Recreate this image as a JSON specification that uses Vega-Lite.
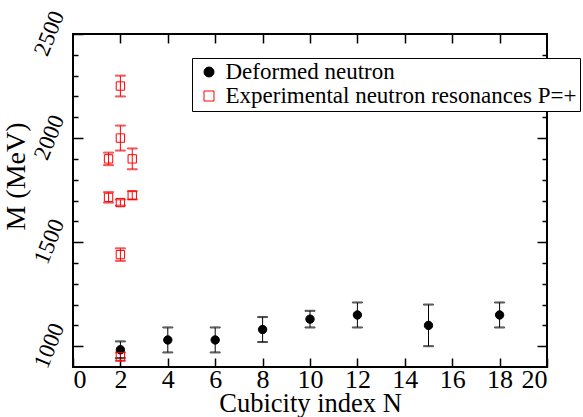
{
  "$schema": "https://vega.github.io/schema/vega-lite/v6.json",
  "width": 474,
  "height": 333,
  "autosize": {"type": "none"},
  "padding": {"left": 73, "top": 34, "right": 36, "bottom": 50},
  "background": "white",
  "config": {
    "font": "Liberation Serif",
    "view": {"stroke": "black", "strokeWidth": 2},
    "axis": {"grid": false, "domain": false, "tickColor": "black", "labelColor": "black", "titleColor": "black", "titleFontWeight": "normal", "labelFont": "Liberation Serif", "titleFont": "Liberation Serif", "labelOverlap": false},
    "legend": {"orient": "none", "legendX": 119, "legendY": 24, "title": null, "padding": 2.5, "strokeColor": "black", "fillColor": "white", "labelFontSize": 23, "labelFont": "Liberation Serif", "labelColor": "black", "labelLimit": 500, "symbolOffset": 3, "labelOffset": 5, "rowPadding": 0, "symbolStrokeWidth": 1, "symbolOpacity": 1}
  },
  "data": {
    "values": [
      {"s": "Deformed neutron", "N": 2, "M": 983, "lo": 943, "hi": 1023},
      {"s": "Deformed neutron", "N": 4, "M": 1030, "lo": 970, "hi": 1090},
      {"s": "Deformed neutron", "N": 6, "M": 1030, "lo": 970, "hi": 1090},
      {"s": "Deformed neutron", "N": 8, "M": 1080, "lo": 1020, "hi": 1140},
      {"s": "Deformed neutron", "N": 10, "M": 1130, "lo": 1090, "hi": 1170},
      {"s": "Deformed neutron", "N": 12, "M": 1150, "lo": 1090, "hi": 1210},
      {"s": "Deformed neutron", "N": 15, "M": 1100, "lo": 1000, "hi": 1200},
      {"s": "Deformed neutron", "N": 18, "M": 1150, "lo": 1090, "hi": 1210},
      {"s": "Experimental neutron resonances P=+", "N": 1.5, "M": 1900, "lo": 1870, "hi": 1930},
      {"s": "Experimental neutron resonances P=+", "N": 1.5, "M": 1715, "lo": 1690, "hi": 1740},
      {"s": "Experimental neutron resonances P=+", "N": 2, "M": 2250, "lo": 2200, "hi": 2300},
      {"s": "Experimental neutron resonances P=+", "N": 2, "M": 2000, "lo": 1940, "hi": 2060},
      {"s": "Experimental neutron resonances P=+", "N": 2, "M": 1690, "lo": 1675, "hi": 1705},
      {"s": "Experimental neutron resonances P=+", "N": 2, "M": 1440, "lo": 1410, "hi": 1470},
      {"s": "Experimental neutron resonances P=+", "N": 2, "M": 950, "lo": 930, "hi": 970},
      {"s": "Experimental neutron resonances P=+", "N": 2.5, "M": 1900, "lo": 1850, "hi": 1950},
      {"s": "Experimental neutron resonances P=+", "N": 2.5, "M": 1725, "lo": 1705, "hi": 1745}
    ]
  },
  "resolve": {"axis": {"x": "independent", "y": "independent"}},
  "layer": [
    {
      "mark": {"type": "rule", "strokeWidth": 1},
      "encoding": {
        "x": {"field": "N", "type": "quantitative", "scale": {"domain": [0, 20], "nice": false, "zero": false},
          "axis": {"orient": "bottom", "values": [0, 2, 4, 6, 8, 10, 12, 14, 16, 18, 20], "tickSize": -9, "tickWidth": 1.5, "labelPadding": 8, "labelFontSize": 26, "title": "Cubicity index N", "titleFontSize": 26.5, "titleY": 44, "titleBaseline": "alphabetic"}},
        "y": {"field": "lo", "type": "quantitative", "scale": {"domain": [900, 2500], "nice": false, "zero": false},
          "axis": {"orient": "left", "values": [1000, 1100, 1200, 1300, 1400, 1500, 1600, 1700, 1800, 1900, 2000, 2100, 2200, 2300, 2400, 2500], "format": "d",
            "labelExpr": "datum.value % 500 === 0 ? datum.label : ''",
            "tickSize": {"condition": {"test": "datum.value % 500 === 0", "value": -10}, "value": -5},
            "tickWidth": 1.5, "labelAngle": -68, "labelAlign": "center", "labelBaseline": "middle", "labelPadding": 34, "labelOffset": -1, "labelFontSize": 23, "labelOverlap": false,
            "title": "M (MeV)", "titleFontSize": 28, "titleAngle": -90, "titleX": -57, "titleY": 142, "titleAlign": "center", "titleBaseline": "middle"}},
        "y2": {"field": "hi"},
        "stroke": {"field": "s", "type": "nominal", "scale": {"domain": ["Deformed neutron", "Experimental neutron resonances P=+"], "range": ["black", "red"]}}
      }
    },
    {
      "mark": {"type": "tick", "orient": "horizontal", "size": 10, "thickness": 1},
      "encoding": {
        "x": {"field": "N", "type": "quantitative",
          "axis": {"orient": "top", "values": [2, 4, 6, 8, 10, 12, 14, 16, 18], "tickSize": -9, "tickWidth": 1.5, "labels": false, "title": null}},
        "y": {"field": "lo", "type": "quantitative",
          "axis": {"orient": "right", "values": [1000, 1100, 1200, 1300, 1400, 1500, 1600, 1700, 1800, 1900, 2000, 2100, 2200, 2300, 2400],
            "tickSize": {"condition": {"test": "datum.value % 500 === 0", "value": -10}, "value": -5}, "tickWidth": 1.5, "labels": false, "title": null}},
        "stroke": {"field": "s", "type": "nominal"}
      }
    },
    {
      "mark": {"type": "tick", "orient": "horizontal", "size": 10, "thickness": 1},
      "encoding": {
        "x": {"field": "N", "type": "quantitative", "axis": null},
        "y": {"field": "hi", "type": "quantitative", "axis": null},
        "stroke": {"field": "s", "type": "nominal"}
      }
    },
    {
      "mark": {"type": "point", "size": 70, "strokeWidth": 1, "opacity": 1},
      "encoding": {
        "x": {"field": "N", "type": "quantitative", "axis": null},
        "y": {"field": "M", "type": "quantitative", "axis": null},
        "shape": {"field": "s", "type": "nominal", "scale": {"domain": ["Deformed neutron", "Experimental neutron resonances P=+"], "range": ["circle", "square"]}},
        "fill": {"field": "s", "type": "nominal", "scale": {"domain": ["Deformed neutron", "Experimental neutron resonances P=+"], "range": ["black", "transparent"]}},
        "stroke": {"field": "s", "type": "nominal"}
      }
    }
  ]
}
